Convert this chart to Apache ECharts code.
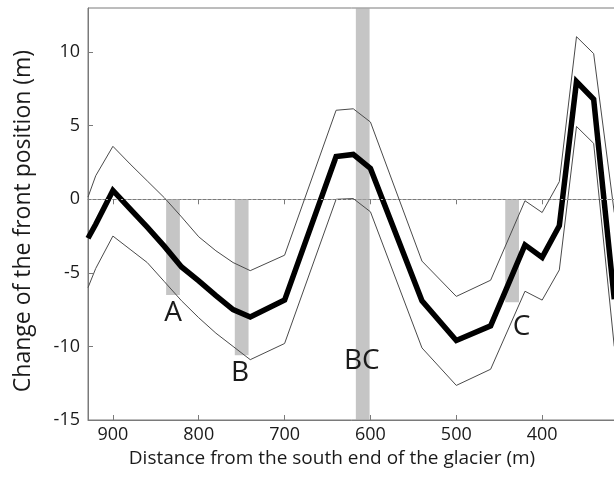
<!DOCTYPE html>
<html>
<head>
<meta charset="utf-8">
<script src="https://cdn.jsdelivr.net/npm/echarts@6/dist/echarts.min.js"></script>
<style>html,body{margin:0;padding:0;background:#fff}#c{width:614px;height:477px}</style>
</head>
<body>
<div id="c"></div>
<script>
// Distance from the south end of the glacier (m)
const distance = [929, 920, 900, 880, 860, 840, 820, 800, 780, 760, 740, 700, 640, 620, 600, 540, 500, 460, 420, 400, 380, 360, 340, 316];
// Change of the front position (m)
const meanChange = [-2.65, -1.7, 0.6, -0.65, -1.9, -3.2, -4.6, -5.55, -6.55, -7.5, -8.0, -6.85, 2.9, 3.05, 2.1, -6.9, -9.6, -8.6, -3.1, -3.95, -1.8, 8.0, 6.8, -6.8];
const upperChange = [0.15, 1.6, 3.6, 2.4, 1.25, 0.1, -1.2, -2.55, -3.5, -4.3, -4.85, -3.8, 6.05, 6.15, 5.25, -4.2, -6.6, -5.5, -0.1, -0.9, 1.2, 11.05, 9.9, -0.9];
const lowerChange = [-6.0, -4.7, -2.5, -3.4, -4.3, -5.6, -6.9, -8.05, -9.1, -10.0, -10.9, -9.8, 0.0, 0.05, -0.85, -10.1, -12.65, -11.55, -6.25, -6.85, -4.8, 4.95, 3.8, -10.0];

// Shaded zones: name, from-distance, to-distance, depth
const zoneNames = ['A', 'B', 'BC', 'C'];
const zoneStart = [838, 758, 617, 443];
const zoneEnd = [822, 742, 601, 427];
const zoneTop = [0, 0, 13, 0];
const zoneBottom = [-6.5, -10.6, -15, -7.0];
// Zone label anchors (data units)
const labelX = [830, 752, 610, 424];
const labelY = [-7.7, -11.8, -11.0, -8.7];

const xTicks = [900, 800, 700, 600, 500, 400];
const yTicks = [-15, -10, -5, 0, 5, 10];

const zip = (xs, ys) => xs.map((x, i) => [x, ys[i]]);
const FONT = 'Open Sans';

const chart = echarts.init(document.getElementById('c'));
chart.setOption({
  animation: false,
  backgroundColor: '#fff',
  textStyle: { fontFamily: FONT },
  grid: { left: 88, right: -14, top: 8, bottom: 57, outerBoundsMode: 'none', containLabel: false,
    show: true, borderColor: '#7a7a7a', borderWidth: 1, backgroundColor: 'transparent' },
  xAxis: [{
    type: 'value', inverse: true, min: 300, max: 929, interval: 100,
    name: 'Distance from the south end of the glacier (m)', nameLocation: 'middle', nameGap: 29,
    nameTextStyle: { fontSize: 19, color: '#1a1a1a', fontFamily: FONT, padding: [0, 52, 0, 0] },
    axisLine: { show: true, onZero: false, lineStyle: { color: '#7a7a7a', width: 1 } },
    axisTick: { show: true, inside: true, length: 5, lineStyle: { color: '#7a7a7a' } },
    axisLabel: { fontSize: 18, color: '#1a1a1a', margin: 6, showMaxLabel: false, showMinLabel: false,
      formatter: v => xTicks.includes(v) ? String(v) : '' },
    splitLine: { show: false }
  }, {
    type: 'value', inverse: true, min: 300, max: 929, interval: 100, position: 'top',
    axisLine: { show: true, lineStyle: { color: '#7a7a7a', width: 1 } },
    axisTick: { show: true, inside: true, length: 5, lineStyle: { color: '#7a7a7a' } },
    axisLabel: { show: false }, splitLine: { show: false }
  }],
  yAxis: {
    type: 'value', min: -15, max: 13, interval: 5,
    name: 'Change of the front position (m)', nameLocation: 'middle', nameGap: 53,
    nameTextStyle: { fontSize: 23, color: '#1a1a1a', fontFamily: FONT, padding: [0, 14, 0, 0] },
    axisLine: { show: true, onZero: false, lineStyle: { color: '#7a7a7a', width: 1 } },
    axisTick: { show: true, inside: true, length: 5, lineStyle: { color: '#7a7a7a' } },
    axisLabel: { fontSize: 18, color: '#1a1a1a', margin: 8, showMaxLabel: false,
      formatter: v => yTicks.includes(v) ? String(v) : '' },
    splitLine: { show: false }
  },
  series: [
    {
      type: 'line', data: zip(distance, upperChange), symbol: 'none', z: 2,
      lineStyle: { color: '#4a4a4a', width: 1 },
      markLine: {
        silent: true, symbol: 'none', label: { show: false },
        lineStyle: { color: '#aaa', type: [2, 3], width: 1 },
        data: [{ yAxis: 0 }]
      }
    },
    { type: 'line', data: zip(distance, lowerChange), symbol: 'none', z: 2, lineStyle: { color: '#4a4a4a', width: 1 } },
    { type: 'line', data: zip(distance, meanChange), symbol: 'none', z: 3, lineStyle: { color: '#000', width: 5.5, join: 'miter' } },
    {
      type: 'line', data: [], z: 5,
      markArea: {
        silent: true,
        itemStyle: { color: 'rgba(170,170,170,0.68)' },
        data: zoneNames.map((n, i) => [
          { xAxis: zoneStart[i], yAxis: zoneTop[i] },
          { xAxis: zoneEnd[i], yAxis: zoneBottom[i] }
        ])
      }
    },
    {
      type: 'scatter', symbolSize: 0, z: 6, itemStyle: { opacity: 1 },
      data: zoneNames.map((n, i) => ({ value: [labelX[i], labelY[i]], name: n })),
      label: { show: true, position: 'inside', formatter: p => p.name, fontSize: 28, color: '#1a1a1a', opacity: 1, fontFamily: FONT }
    }
  ]
});
</script>
</body>
</html>
